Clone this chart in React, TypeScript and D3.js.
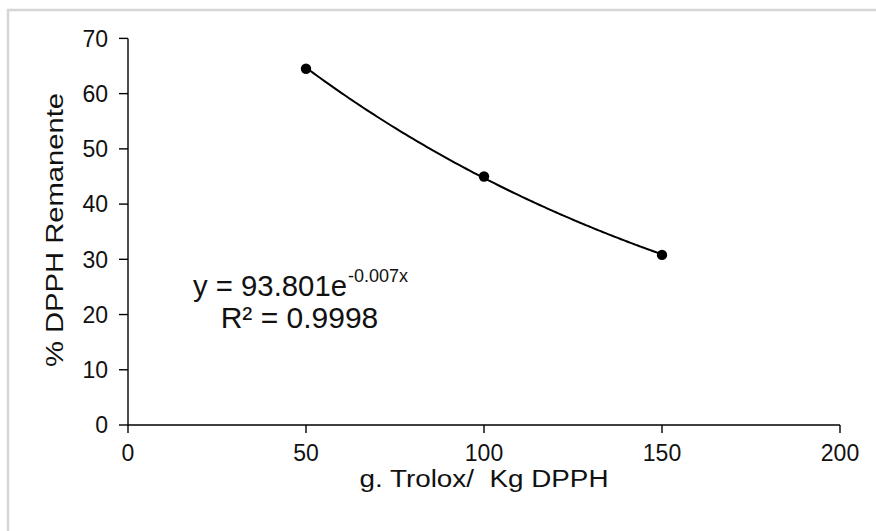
import React from "react";
import * as d3 from "d3";

const xValues = [50, 100, 150];
const yValues = [64.5, 45.0, 30.8];
const xTicks = [0, 50, 100, 150, 200];
const yTicks = [0, 10, 20, 30, 40, 50, 60, 70];
const xTitle = "g. Trolox/  Kg DPPH";
const yTitle = "% DPPH Remanente";
const eqMain = "y = 93.801e";
const eqExp = "-0.007x";
const eqR2 = "R² = 0.9998";

const W = 876;
const H = 531;
const FONT = "'Liberation Sans', Arial, Helvetica, sans-serif";

export default function App() {
  const x = d3.scaleLinear().domain([0, 200]).range([128, 840]);
  const y = d3.scaleLinear().domain([0, 70]).range([425, 38.4]);

  // exponential least-squares fit (trendline) on log values
  const lx = xValues;
  const ly = yValues.map((v) => Math.log(v));
  const mx = d3.mean(lx) as number;
  const my = d3.mean(ly) as number;
  let num = 0;
  let den = 0;
  lx.forEach((xv, i) => {
    num += (xv - mx) * (ly[i] - my);
    den += (xv - mx) * (xv - mx);
  });
  const b = num / den;
  const a = Math.exp(my - b * mx);
  const [x0, x1] = d3.extent(xValues) as [number, number];
  const trend = d3.range(x0, x1 + 0.001, 1).map((t) => [t, a * Math.exp(b * t)] as [number, number]);
  const linePath = d3
    .line<[number, number]>()
    .x((d) => x(d[0]))
    .y((d) => y(d[1]))
    .curve(d3.curveMonotoneX)(trend);

  return (
    <svg
      width={W}
      height={H}
      style={{ position: "absolute", left: 0, top: 0, background: "#fff" }}
      fontFamily={FONT}
    >
      <rect x={0} y={0} width={W} height={H} fill="#fff" />
      <rect x={8} y={10} width={W + 20} height={H + 20} fill="#fff" stroke="#d6d6d6" strokeWidth={2.5} />

      {/* Y axis */}
      <line x1={x(0)} x2={x(0)} y1={y(0)} y2={y(70)} stroke="#000" strokeWidth={1.4} />
      {yTicks.map((t) => (
        <g key={"y" + t}>
          <line x1={x(0) - 9} x2={x(0)} y1={y(t)} y2={y(t)} stroke="#000" strokeWidth={1.4} />
          <text x={x(0) - 20} y={y(t)} dy="0.36em" textAnchor="end" fontSize={23} fill="#111">
            {t}
          </text>
        </g>
      ))}

      {/* X axis */}
      <line x1={x(0)} x2={x(200)} y1={y(0)} y2={y(0)} stroke="#000" strokeWidth={1.4} />
      {xTicks.map((t) => (
        <g key={"x" + t}>
          <line x1={x(t)} x2={x(t)} y1={y(0)} y2={y(0) + 8} stroke="#000" strokeWidth={1.4} />
          <text x={x(t)} y={461} textAnchor="middle" fontSize={23} fill="#111">
            {t}
          </text>
        </g>
      ))}

      {/* Axis titles */}
      <text
        x={484}
        y={487}
        textAnchor="middle"
        fontSize={23}
        fill="#111"
        style={{ whiteSpace: "pre" }}
        textLength={249}
        lengthAdjust="spacingAndGlyphs"
      >
        {xTitle}
      </text>
      <text
        transform={`translate(63,230) rotate(-90)`}
        textAnchor="middle"
        fontSize={24.5}
        fill="#111"
        textLength={274}
        lengthAdjust="spacingAndGlyphs"
      >
        {yTitle}
      </text>

      {/* Trendline */}
      <path d={linePath || ""} fill="none" stroke="#000" strokeWidth={2} />

      {/* Points */}
      {xValues.map((xv, i) => (
        <circle key={"p" + i} cx={x(xv)} cy={y(yValues[i])} r={5.2} fill="#000" />
      ))}

      {/* Equation */}
      <text x={193} y={296} fontSize={30} fill="#111" textLength={154} lengthAdjust="spacingAndGlyphs">
        {eqMain}
      </text>
      <text x={348} y={282} fontSize={18} fill="#111">
        {eqExp}
      </text>
      <text x={299.5} y={328} textAnchor="middle" fontSize={30} fill="#111">
        {eqR2}
      </text>
    </svg>
  );
}
